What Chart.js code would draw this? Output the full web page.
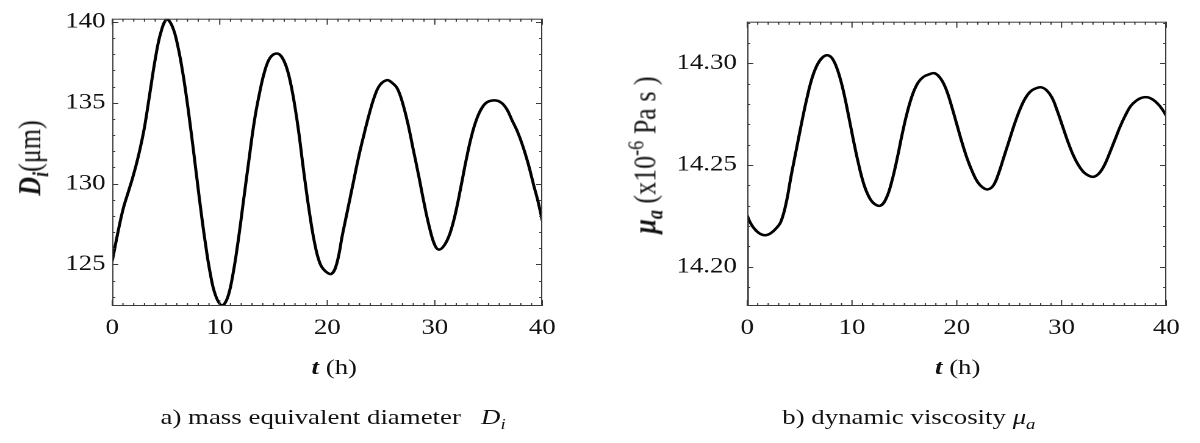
<!DOCTYPE html>
<html>
<head>
<meta charset="utf-8">
<script src="https://cdn.jsdelivr.net/npm/chart.js@4/dist/chart.umd.min.js"></script>
<style>
  body { margin: 0; background: #fff; width: 1200px; height: 443px; overflow: hidden;
         font-family: "Liberation Serif", "DejaVu Serif", serif; color: #111; }
  /* la figure d'origine est etiree horizontalement : on dessine a 1/1.22 puis on etire */
  #page { position: absolute; left: 0; top: 0; width: 984px; height: 443px;
          transform: scaleX(1.22); transform-origin: 0 0; }
  .box { position: absolute; top: 0; width: 492px; height: 360px; }
  .lbl { position: absolute; transform: translate(-50%, -50%); white-space: nowrap; font-size: 22px; }
  .rot { transform: translate(-50%, -50%) rotate(-90deg); }
  .bi { font-weight: bold; font-style: italic; }
  .it { font-style: italic; }
  sub, sup { font-size: 70%; line-height: 0; }
</style>
</head>
<body>
<div id="page">
  <div class="box" style="left:0"><canvas id="graph1"></canvas></div>
  <div class="box" style="left:492px"><canvas id="graph2"></canvas></div>

  <div class="lbl rot" style="left:25px; top:158px; font-size:26px"><span class="bi">D<sub>i</sub></span>(μm)</div>
  <div class="lbl" style="left:274px; top:367px"><span class="bi">t</span> (h)</div>
  <div class="lbl" style="left:273px; top:417px">a) mass equivalent diameter &nbsp;&nbsp;<span class="it">D<sub>i</sub></span></div>

  <div class="lbl rot" style="left:529px; top:155px; font-size:26px"><span class="bi">μ<sub>a</sub></span> (x10<sup>-6</sup> Pa s )</div>
  <div class="lbl" style="left:785px; top:367px"><span class="bi">t</span> (h)</div>
  <div class="lbl" style="left:745px; top:417px">b) dynamic viscosity <span class="it">μ<sub>a</sub></span></div>
</div>

<script>
// Valeurs
const xTicks = [0, 10, 20, 30, 40];
const diamTicks = [125, 130, 135, 140];
const viscTicks = [14.20, 14.25, 14.30];

// a) diametre equivalent D_i (um) en fonction de t (h)
const diamT = [0, 0.5, 1.0, 1.5, 2.0, 2.5, 3.0, 3.5, 4.0, 4.5, 5.07, 5.6, 6.1, 6.6, 7.1, 7.6, 8.1, 8.6, 9.1, 9.6, 10.19,
  10.7, 11.2, 11.7, 12.2, 12.7, 13.2, 13.7, 14.2, 14.7, 15.31, 15.8, 16.3, 16.8, 17.3, 17.8, 18.3, 18.8, 19.3, 19.8, 20.4,
  20.9, 21.4, 21.9, 22.4, 22.9, 23.4, 23.9, 24.4, 24.9, 25.56, 26.0, 26.5, 27.0, 27.5, 28.0, 28.5, 29.0, 29.5, 30.0, 30.4,
  30.9, 31.4, 31.9, 32.4, 32.9, 33.4, 33.9, 34.4, 34.9, 35.6, 36.2, 36.7, 37.2, 37.7, 38.2, 38.7, 39.2, 39.6, 40];
const diamV = [125.2, 126.9, 128.4, 129.5, 130.6, 131.9, 133.5, 135.6, 137.7, 139.3, 140.15, 139.7, 138.5, 136.7, 134.4,
  131.8, 129.1, 126.6, 124.5, 123.1, 122.47,
  122.9, 124.3, 126.4, 128.9, 131.4, 133.8, 135.6, 137.0, 137.8, 138.05,
  137.8, 137.0, 135.5, 133.4, 130.8, 128.4, 126.4, 125.1, 124.6, 124.42,
  125.1, 126.8, 128.4, 130.0, 131.6, 133.0, 134.3, 135.4, 136.1, 136.4,
  136.25, 135.9, 135.0, 133.7, 132.1, 130.5, 128.8, 127.3, 126.2, 125.92,
  126.2, 126.9, 128.1, 129.7, 131.4, 132.9, 134.0, 134.7, 135.05, 135.15,
  135.0, 134.6, 133.9, 133.2, 132.3, 131.2, 129.9, 128.9, 127.71];

// b) viscosite dynamique mu_a (x1e-6 Pa s)
const viscT = [0, 0.3, 0.7, 1.2, 1.7, 2.2, 2.7, 3.2, 3.7, 4.2, 4.7, 5.2, 5.7, 6.2, 6.7, 7.2, 7.65, 8.1, 8.6, 9.1, 9.6,
  10.1, 10.6, 11.1, 11.6, 12.1, 12.73, 13.3, 13.8, 14.3, 14.8, 15.3, 15.8, 16.3, 16.8, 17.3, 17.9, 18.5, 19.0, 19.5,
  20.0, 20.5, 21.0, 21.5, 22.0, 22.5, 22.98, 23.5, 24.0, 24.5, 25.0, 25.5, 26.0, 26.5, 27.0, 27.5, 28.07, 28.6, 29.1,
  29.6, 30.1, 30.6, 31.1, 31.6, 32.1, 32.6, 33.08, 33.6, 34.1, 34.6, 35.1, 35.6, 36.1, 36.6, 37.1, 37.6, 38.22, 38.7,
  39.2, 39.6, 40];
const viscV = [14.2251, 14.2215, 14.2185, 14.2162, 14.2154, 14.2163, 14.2185, 14.2220, 14.2310, 14.2450, 14.2580,
  14.2710, 14.2830, 14.2930, 14.2995, 14.3030, 14.3040, 14.3025, 14.2970, 14.2880, 14.2760,
  14.2630, 14.2510, 14.2410, 14.2345, 14.2310, 14.2300, 14.2340, 14.2420, 14.2530, 14.2655, 14.2765, 14.2850,
  14.2905, 14.2933, 14.2945, 14.2951, 14.2922, 14.2870, 14.2790,
  14.2700, 14.2610, 14.2530, 14.2465, 14.2415, 14.2388, 14.2380, 14.2400, 14.2460, 14.2540, 14.2620, 14.2700,
  14.2770, 14.2825, 14.2860, 14.2876, 14.2882, 14.2866, 14.2830,
  14.2765, 14.2690, 14.2615, 14.2550, 14.2500, 14.2465, 14.2447, 14.2442, 14.2460, 14.2500, 14.2560, 14.2625,
  14.2690, 14.2745, 14.2790, 14.2815, 14.2830, 14.2833, 14.2822, 14.2800, 14.2775, 14.2742];
// saut initial depuis le bas de l'axe a t = 0
const viscJumpT = [0, 0];
const viscJumpV = [14.17, 14.2251];

const toXY = (ts, vs) => ts.map((t, i) => ({ x: t, y: vs[i] }));

// Cadre et graduations interieures sur les 4 cotes
const frameTicks = {
  id: 'frameTicks',
  afterDraw(chart, args, opts) {
    const { ctx, chartArea: a, scales: { x, y } } = chart;
    ctx.save();
    ctx.strokeStyle = '#3a3a3a';
    ctx.lineWidth = 1;
    ctx.strokeRect(a.left + 0.5, a.top + 0.5, a.right - a.left - 1, a.bottom - a.top - 1);
    ctx.beginPath();
    for (let i = 0; i <= 40; i++) {
      const px = x.getPixelForValue(i);
      const len = i % 10 === 0 ? 6 : 3;
      ctx.moveTo(px, a.bottom); ctx.lineTo(px, a.bottom - len);
      ctx.moveTo(px, a.top); ctx.lineTo(px, a.top + len);
    }
    const n0 = Math.ceil(y.min / opts.minor - 1e-6), n1 = Math.floor(y.max / opts.minor + 1e-6);
    for (let n = n0; n <= n1; n++) {
      const v = n * opts.minor;
      const py = Math.round(y.getPixelForValue(v)) + 0.5;
      const major = Math.abs(v / opts.major - Math.round(v / opts.major)) < 1e-6;
      const len = major ? 5 : 2.5;
      ctx.moveTo(a.left, py); ctx.lineTo(a.left + len, py);
      ctx.moveTo(a.right, py); ctx.lineTo(a.right - len, py);
    }
    ctx.stroke();
    ctx.restore();
  }
};

Chart.defaults.font.family = 'Liberation Serif';
const tickFont = { family: 'Liberation Serif', size: 22 };

function makeConfig(datasets, yMin, yMax, yTicks, yWidth, padRight, labelPad, minor, major, fmt) {
  return {
    type: 'line',
    data: { datasets: datasets },
    options: {
      responsive: true,
      maintainAspectRatio: false,
      animation: false,
      devicePixelRatio: 2,
      layout: { padding: { top: 17, right: padRight, left: 0, bottom: 0 } },
      plugins: { legend: { display: false }, tooltip: { enabled: false }, frameTicks: { minor: minor, major: major } },
      elements: { point: { radius: 0 } },
      scales: {
        x: {
          type: 'linear', min: 0, max: 40,
          grid: { display: false, drawTicks: false }, border: { display: false },
          afterBuildTicks: s => { s.ticks = xTicks.map(v => ({ value: v })); },
          afterFit: s => { s.height = 54; },
          ticks: { color: '#111', font: tickFont, padding: 9, maxRotation: 0 }
        },
        y: {
          type: 'linear', min: yMin, max: yMax,
          grid: { display: false, drawTicks: false }, border: { display: false },
          afterBuildTicks: s => { s.ticks = yTicks.map(v => ({ value: v })); },
          afterFit: s => { s.width = yWidth; },
          ticks: { color: '#111', font: tickFont, padding: labelPad, callback: fmt }
        }
      }
    },
    plugins: [frameTicks]
  };
}

const lineStyle = { borderColor: '#000', borderWidth: 2.5, fill: false, tension: 0.4 };

window.onload = function () {
  new Chart(document.getElementById('graph1'), makeConfig(
    [Object.assign({ data: toXY(diamT, diamV) }, lineStyle)],
    122.43, 140.2, diamTicks, 92, 47.5, 5.5, 1, 5, v => String(v)));

  new Chart(document.getElementById('graph2'), makeConfig(
    [Object.assign({ data: toXY(viscT, viscV) }, lineStyle),
     { data: toXY(viscJumpT, viscJumpV), borderColor: '#000', borderWidth: 2.5, tension: 0, clip: 0 }],
    14.1806, 14.3205, viscTicks, 120.5, 28, 8.5, 0.01, 0.05, v => Number(v).toFixed(2)));
};
</script>
</body>
</html>
